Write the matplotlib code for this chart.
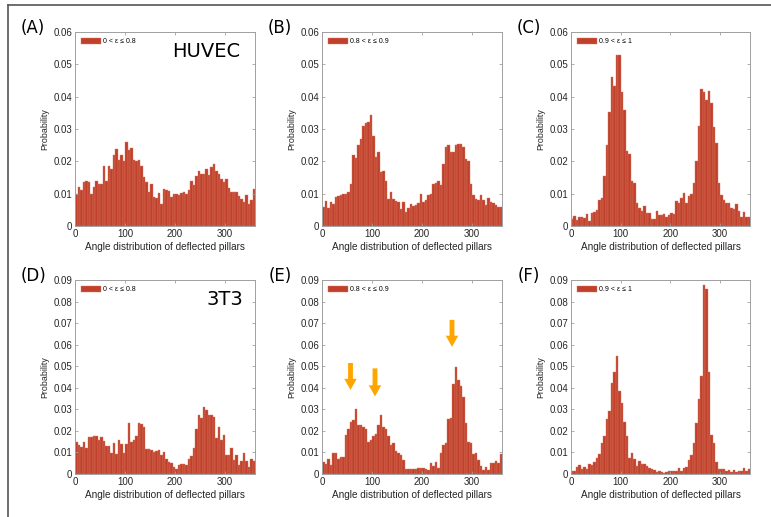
import numpy as np
import matplotlib
matplotlib.use("Agg")
import matplotlib.pyplot as plt
from matplotlib.lines import Line2D

## bin edges (5 degree bins, 0-360)
bin_edges = np.arange(0, 360, 5)

## probability per bin
prob_A = [0.0099, 0.012, 0.011, 0.0135, 0.014, 0.0136, 0.0099, 0.012, 0.014, 0.013,
          0.013, 0.0187, 0.014, 0.0187, 0.0176, 0.022, 0.0237, 0.0204, 0.022, 0.020,
          0.026, 0.0235, 0.0242, 0.0204, 0.020, 0.0203, 0.0186, 0.0153, 0.0137, 0.0104,
          0.013, 0.009, 0.0088, 0.0103, 0.0067, 0.0113, 0.011, 0.0107, 0.0089, 0.0099,
          0.0099, 0.0095, 0.0102, 0.0105, 0.010, 0.011, 0.014, 0.0128, 0.0155, 0.0169,
          0.016, 0.016, 0.0175, 0.0157, 0.0184, 0.0192, 0.0171, 0.016, 0.0144, 0.0135,
          0.0144, 0.0119, 0.0104, 0.0104, 0.0104, 0.0093, 0.0082, 0.0075, 0.0096, 0.0067,
          0.008, 0.0113]
prob_B = [0.006, 0.0077, 0.0057, 0.0075, 0.0069, 0.009, 0.0094, 0.0095, 0.0099, 0.0099,
          0.0104, 0.013, 0.022, 0.021, 0.025, 0.0268, 0.031, 0.032, 0.0322, 0.0343,
          0.0278, 0.0214, 0.023, 0.0166, 0.017, 0.014, 0.0083, 0.0105, 0.0083, 0.0076,
          0.0073, 0.0053, 0.0075, 0.0044, 0.0057, 0.0068, 0.0062, 0.0066, 0.0071, 0.0098,
          0.0075, 0.008, 0.0096, 0.0098, 0.013, 0.0134, 0.0139, 0.0127, 0.0192, 0.0245,
          0.025, 0.023, 0.023, 0.025, 0.0253, 0.0254, 0.0245, 0.0206, 0.020, 0.0131,
          0.0096, 0.0082, 0.008, 0.0096, 0.008, 0.0065, 0.0086, 0.0073, 0.007, 0.0064,
          0.006, 0.0059]
prob_C = [0.0021, 0.003, 0.002, 0.0029, 0.0029, 0.0024, 0.0037, 0.0014, 0.004, 0.0042,
          0.005, 0.008, 0.0087, 0.0155, 0.025, 0.0354, 0.046, 0.0433, 0.0529, 0.053,
          0.0415, 0.0359, 0.0231, 0.0222, 0.0138, 0.0132, 0.0072, 0.0057, 0.0047, 0.0062,
          0.0041, 0.0041, 0.0023, 0.0021, 0.0046, 0.0034, 0.0034, 0.0037, 0.0029, 0.0034,
          0.0041, 0.0036, 0.0077, 0.0071, 0.0088, 0.0101, 0.007, 0.0094, 0.0099, 0.0132,
          0.020, 0.031, 0.0423, 0.0414, 0.039, 0.0418, 0.038, 0.0307, 0.0258, 0.0134,
          0.0095, 0.008, 0.0072, 0.0072, 0.0055, 0.0053, 0.0067, 0.0046, 0.0029, 0.0044,
          0.0029, 0.0029]
prob_D = [0.015, 0.0134, 0.0124, 0.015, 0.0119, 0.0173, 0.0173, 0.0178, 0.0178, 0.016,
          0.0173, 0.0155, 0.013, 0.013, 0.0099, 0.0142, 0.0093, 0.0159, 0.0141, 0.0099,
          0.0139, 0.0238, 0.015, 0.016, 0.0175, 0.0238, 0.0232, 0.022, 0.0116, 0.0116,
          0.0111, 0.0102, 0.0107, 0.0111, 0.0088, 0.0104, 0.0068, 0.0057, 0.0049, 0.0034,
          0.0025, 0.0041, 0.0045, 0.0048, 0.0043, 0.007, 0.0083, 0.0122, 0.0207, 0.0274,
          0.0261, 0.0309, 0.0297, 0.0272, 0.0272, 0.0266, 0.0165, 0.022, 0.0158, 0.0181,
          0.0088, 0.0087, 0.0122, 0.0065, 0.0088, 0.004, 0.0062, 0.0099, 0.0062, 0.0034,
          0.007, 0.006]
prob_E = [0.0057, 0.0046, 0.007, 0.0042, 0.0096, 0.0096, 0.007, 0.0077, 0.0077, 0.0182,
          0.0207, 0.0241, 0.025, 0.0301, 0.0226, 0.0229, 0.022, 0.0209, 0.015, 0.016,
          0.0178, 0.0185, 0.0226, 0.0272, 0.0218, 0.0209, 0.0178, 0.0134, 0.0144, 0.0107,
          0.0099, 0.0087, 0.0065, 0.0023, 0.0023, 0.0023, 0.0025, 0.0021, 0.003, 0.0029,
          0.0029, 0.0022, 0.0019, 0.0049, 0.0037, 0.0054, 0.0029, 0.0096, 0.0134, 0.0145,
          0.0257, 0.026, 0.0417, 0.0498, 0.0436, 0.0408, 0.0359, 0.0235, 0.015, 0.0142,
          0.0091, 0.0096, 0.0065, 0.0039, 0.0019, 0.0031, 0.0019, 0.0049, 0.0049, 0.006,
          0.0052, 0.0091]
prob_F = [0.0014, 0.0014, 0.0034, 0.0042, 0.0022, 0.0034, 0.0022, 0.0046, 0.0042, 0.0057,
          0.0076, 0.0091, 0.0145, 0.0176, 0.0253, 0.0294, 0.042, 0.0473, 0.0547, 0.0386,
          0.0328, 0.0243, 0.0178, 0.0073, 0.0097, 0.0068, 0.0039, 0.006, 0.0045, 0.0045,
          0.0039, 0.0026, 0.0023, 0.0019, 0.0008, 0.0015, 0.0011, 0.0003, 0.0009, 0.0012,
          0.0014, 0.0014, 0.0014, 0.0026, 0.0014, 0.0029, 0.0034, 0.0065, 0.0088, 0.0142,
          0.0235, 0.035, 0.0454, 0.0876, 0.0856, 0.0473, 0.0181, 0.0145, 0.0057, 0.0022,
          0.0022, 0.0022, 0.0014, 0.0019, 0.0011, 0.0019, 0.0008, 0.0014, 0.0014, 0.0029,
          0.0014, 0.0022]

panel_letters = ["(A)", "(B)", "(C)", "(D)", "(E)", "(F)"]
legend_labels = ["0 < ε ≤ 0.8", "0.8 < ε ≤ 0.9", "0.9 < ε ≤ 1"] * 2
cell_names = ["HUVEC", "3T3"]
row_ymax = [0.06, 0.09]

## arrows in panel (E): x, tip y, tail y
arrow_x = [57, 106, 260]
arrow_tip = [0.039, 0.036, 0.059]
arrow_tail = [0.0515, 0.049, 0.0715]

all_probs = [prob_A, prob_B, prob_C, prob_D, prob_E, prob_F]

W, H = 771, 517
fig = plt.figure(figsize=(W / 100, H / 100), dpi=100)

col_left = [75, 322, 571]
col_width = [180, 180, 179]
row_top = [32, 280]
ax_h = 194

bar_color = '#C0402B'
edge_color = '#DA7A64'
axis_gray = '#A0A0A0'
text_gray = '#262626'

for k in range(6):
    r, c = divmod(k, 3)
    left = col_left[c] / W
    bottom = (H - row_top[r] - ax_h) / H
    ax = fig.add_axes([left, bottom, col_width[c] / W, ax_h / H])
    ax.bar(bin_edges, all_probs[k], width=5, align='edge', color=bar_color,
           edgecolor=edge_color, linewidth=0.3, label=legend_labels[k])
    ax.set_xlim(0, 360)
    ax.set_ylim(0, row_ymax[r])
    ax.set_xticks([0, 100, 200, 300])
    ax.set_yticks(np.arange(0, row_ymax[r] + 0.001, 0.01))
    ax.set_yticklabels(["0"] + [f"{v:.2f}" for v in np.arange(0.01, row_ymax[r] + 0.001, 0.01)])
    ax.tick_params(direction='in', length=2.5, width=0.6, colors=axis_gray,
                   labelcolor=text_gray, labelsize=7, top=True, right=True, pad=2)
    for lab in ax.get_xticklabels() + ax.get_yticklabels():
        lab.set_family('Liberation Sans')
    for sp in ax.spines.values():
        sp.set_color(axis_gray)
        sp.set_linewidth(0.7)
    ax.set_xlabel("Angle distribution of deflected pillars", fontsize=7.2,
                  family='Liberation Sans', color=text_gray, labelpad=2)
    ax.set_ylabel("Probability", fontsize=6.4, family='Liberation Sans',
                  color=text_gray, labelpad=3)
    ax.legend(loc='upper left', frameon=False, prop={'family': 'Liberation Sans', 'size': 5},
              handlelength=2.9, handleheight=1.0, handletextpad=0.3,
              borderaxespad=0.4, borderpad=0.4)
    # panel letter
    fig.text((col_left[c] - 42) / W, 1 - (row_top[r] - 4) / H, panel_letters[k],
             fontsize=12, ha='center', va='center', color='black')
    if c == 0:
        ax.text(0.73 if r == 0 else 0.83, 0.9, cell_names[r], transform=ax.transAxes,
                fontsize=14, ha='center', va='center', color='black')
    if k == 4:
        for x, yt, yb in zip(arrow_x, arrow_tip, arrow_tail):
            ax.annotate("", xy=(x, yt), xytext=(x, yb),
                        arrowprops=dict(facecolor='#FFA500', edgecolor='none',
                                        width=3.5, headwidth=9, headlength=8, shrink=0))

## outer frame lines (left and top)
fig.add_artist(Line2D([7.5 / W, 7.5 / W], [0, 1 - 5 / H], color='#555555', lw=1.2))
fig.add_artist(Line2D([7.5 / W, 1], [1 - 5 / H, 1 - 5 / H], color='#555555', lw=1.2))

fig.savefig("out.png", dpi=100)
